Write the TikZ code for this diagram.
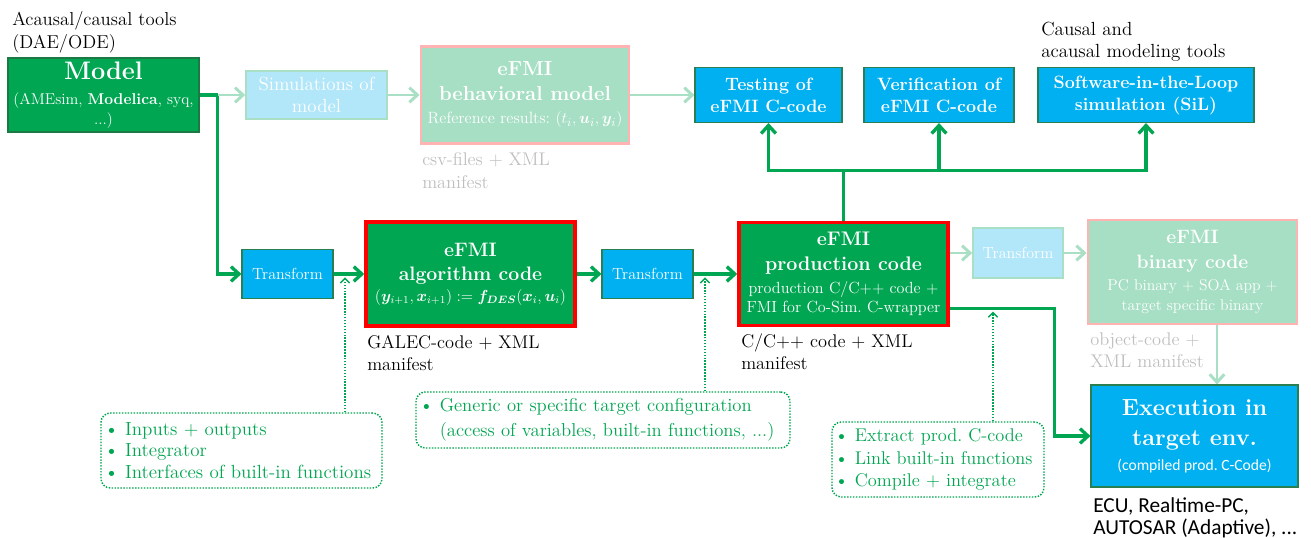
\documentclass[tikz,border=0pt]{standalone}
\usepackage{fontspec}
\usepackage{bm}
\newfontfamily\calibri{Carlito}
\usetikzlibrary{arrows.meta,calc,backgrounds}
\definecolor{dgreen}{HTML}{00A651}
\definecolor{dborder}{HTML}{1B7A43}
\definecolor{cblue}{HTML}{00B0F0}
\definecolor{bborder}{HTML}{2A7F50}
\definecolor{lblue}{HTML}{B2E6F9}
\definecolor{lgline}{HTML}{A9DFC4}
\definecolor{lgfill}{HTML}{A6DFC3}
\definecolor{pinkb}{HTML}{FFB3B3}
\definecolor{lgarrow}{HTML}{A9DFC4}
\definecolor{graytext}{HTML}{BFBFBF}
\definecolor{notegreen}{HTML}{00A651}
\newcommand{\fsz}[2]{\fontsize{#1}{#2}\selectfont}
\frenchspacing
\begin{document}
\frenchspacing
\begin{tikzpicture}[x=0.75pt,y=-0.75pt,
  box/.style={rectangle, inner sep=0pt, align=center, text=white},
  dbox/.style={box, fill=dgreen, draw=dborder, line width=0.8pt},
  rbox/.style={box, fill=dgreen, draw=red, line width=2.6pt},
  bbox/.style={box, fill=cblue, draw=bborder, line width=0.8pt},
  lbbox/.style={box, fill=lblue, draw=lgline, line width=1.2pt},
  lgbox/.style={box, fill=lgfill, draw=pinkb, line width=2.2pt},
  note/.style={rectangle, rounded corners=7pt, draw=dgreen, line width=1.1pt,
    dash pattern=on 1.1pt off 1.1pt, fill=white, text=notegreen, align=left,
    inner xsep=2.5pt, inner ysep=0pt},
  lbl/.style={inner sep=0pt, align=left, anchor=north west},
  darr/.style={draw=dgreen, line width=2.5pt, -{Straight Barb[length=6pt,width=11pt]}},
  dline/.style={draw=dgreen, line width=2.5pt},
  larr/.style={draw=lgarrow, line width=2.2pt, -{Straight Barb[length=6pt,width=11pt]}},
  dotarr/.style={draw=dgreen, line width=1.1pt, dash pattern=on 1.1pt off 1.1pt,
    -{Straight Barb[length=3.5pt,width=7pt]}, shorten >=2.5pt}
]
\begin{scope}[on background layer]
\fill[white] (0,0) rectangle (1311,538);
\end{scope}
\useasboundingbox (0,0) rectangle (1311,538);

% top row
\node[dbox, minimum width=143.25pt, minimum height=55.5pt, font=\fsz{11.75}{15}] (model) at (103.5,95)
  {{\fsz{19}{15}\bfseries Model}\\[3.75pt](AMEsim, \textbf{Modelica}, syq,\\...)};
\node[lbbox, minimum width=105.75pt, minimum height=36pt, font=\fsz{14.25}{16.5}] (sim) at (316.5,95)
  {Simulations of\\model};
\node[lgbox, minimum width=156pt, minimum height=72.75pt, font=\fsz{12.25}{17}] (beh) at (525,95)
  {{\fsz{15.25}{17}\bfseries eFMI}\\[1.75pt]{\fsz{15.25}{17}\bfseries behavioral model}\\[0.25pt]Reference results: $(t_i,\bm{u}_i,\bm{y}_i)$};
\node[bbox, minimum width=110.25pt, minimum height=41.25pt, font=\fsz{13.4}{16.5}\bfseries] (test) at (768.5,95)
  {Testing of\\eFMI C-code};
\node[bbox, minimum width=112.5pt, minimum height=41.25pt, font=\fsz{13.4}{16.5}\bfseries] (verif) at (939,95)
  {Verification of\\eFMI C-code};
\node[bbox, minimum width=162pt, minimum height=41.25pt, font=\fsz{13.4}{16.5}\bfseries] (sil) at (1146,95)
  {Software-in-the-Loop\\simulation (SiL)};

% middle row
\node[bbox, minimum width=68.25pt, minimum height=36.75pt, font=\fsz{12}{12}] (tr1) at (287.5,274) {Transform};
\node[rbox, minimum width=156.75pt, minimum height=78pt, font=\fsz{11.75}{15.75}] (alg) at (470.5,274)
  {{\fsz{14.6}{15.75}\bfseries eFMI}\\[2.25pt]{\fsz{14.6}{15.75}\bfseries algorithm code}\\$(\bm{y}_{i+1},\bm{x}_{i+1}) := \bm{f}_{\bm{DES}}(\bm{x}_i,\bm{u}_i)$};
\node[bbox, minimum width=68.25pt, minimum height=36.75pt, font=\fsz{12}{12}] (tr2) at (647.5,274) {Transform};
\node[rbox, minimum width=156.75pt, minimum height=77.25pt, font=\fsz{12.1}{14.25}] (prod) at (843.5,274)
  {{\fsz{14.75}{14.25}\bfseries eFMI}\\[4.5pt]{\fsz{14.75}{14.25}\bfseries production code}\\[3pt]production C/C++ code +\\FMI for Co-Sim. C-wrapper};
\node[lbbox, minimum width=67.5pt, minimum height=37.5pt, font=\fsz{12}{12}] (tr3) at (1018,253) {Transform};
\node[lgbox, minimum width=156.75pt, minimum height=78pt, font=\fsz{11.75}{15}] (bin) at (1192.5,272)
  {{\fsz{14.5}{15}\bfseries eFMI}\\[3.75pt]{\fsz{14.5}{15}\bfseries binary code}\\[1.5pt]PC binary + SOA app +\\target specific binary};
\node[bbox, minimum width=155.25pt, minimum height=76.5pt, font=\fsz{17.5}{22.5}\bfseries] (exec) at (1194.5,436)
  {Execution in\\target env.\\[-3.75pt]{\calibri\mdseries\fsz{11.7}{12}(compiled prod. C-Code)}};

% notes
\node[note, text width=205.75pt, minimum height=56.25pt, font=\fsz{14.25}{16.25}] (note1) at (241.5,450.5)
  {\textbullet\ Inputs + outputs\\\textbullet\ Integrator\\\textbullet\ Interfaces of built-in functions};
\node[note, text width=275.5pt, minimum height=42pt, font=\fsz{14}{18.75}] (note2) at (603,420)
  {\textbullet\ Generic or specific target configuration\\\phantom{\textbullet\ }(access of variables, built-in functions, ...)};
\node[note, text width=155pt, inner xsep=2pt, minimum height=56.25pt, font=\fsz{13.8}{17}] (note3) at (938,459.5)
  {\textbullet\ Extract prod. C-code\\\textbullet\ Link built-in functions\\\textbullet\ Compile + integrate};

% labels
\node[lbl, font=\fsz{14}{17.25}] (lacausal) at (12,11) {Acausal/causal tools\\(DAE/ODE)};
\node[lbl, font=\fsz{14.25}{16.5}] (lcausal) at (1041,22) {Causal and\\acausal modeling tools};
\node[lbl, font=\fsz{13.75}{17.25}, text=graytext] (lcsv) at (422,152) {csv-files + XML\\manifest};
\node[lbl, font=\fsz{13.75}{16.5}] (lgalec) at (367,335) {GALEC-code + XML\\manifest};
\node[lbl, font=\fsz{13.75}{16.5}] (lcpp) at (741,333) {C/C++ code + XML\\manifest};
\node[lbl, font=\fsz{13.75}{16.5}, text=graytext] (lobj) at (1090,333) {object-code +\\XML manifest};
\node[lbl, font=\calibri\fsz{16}{16.5}] (lecu) at (1093,497) {ECU, Realtime-PC,\\AUTOSAR (Adaptive), ...};

\begin{scope}[on background layer]
\coordinate (split) at ($(model.east)+(18,0)$);
\draw[dline] (model.east) -- (split);
\draw[darr] (split) |- (tr1.west);
\draw[larr] (split) -- (sim.west);
\draw[larr] (sim.east) -- (beh.west);
\draw[larr] (beh.east) -- (test.west);
\draw[darr] (tr1.east) -- (alg.west);
\draw[darr] (alg.east) -- (tr2.west);
\draw[darr] (tr2.east) -- (prod.west);
\coordinate (hub) at ($(prod.north)+(0,-50)$);
\draw[dline] (prod.north) -- (hub);
\draw[darr] (hub) -| (test.south);
\draw[darr] (hub) -| (sil.south);
\draw[darr] (verif.south |- hub) -- (verif.south);
\draw[larr] (prod.east |- tr3.west) -- (tr3.west);
\draw[larr] (tr3.east) -- (tr3.east -| bin.west);
\coordinate (bs) at ($(bin.south)+(24.5,0)$);
\draw[larr] (bs) -- (bs |- exec.north);
\coordinate (pout) at ($(prod.south east)+(0,-19)$);
\draw[darr] (pout) -- ++(105,0) |- (exec.west);
\coordinate (d1) at ($(note1.north)+(103.5,0)$);
\draw[dotarr] (d1) -- (d1 |- tr1.east);
\coordinate (d2) at ($(note2.north)+(102,0)$);
\draw[dotarr] (d2) -- (d2 |- tr2.east);
\coordinate (d3) at ($(note3.north)+(55,0)$);
\draw[dotarr] (d3) -- (d3 |- pout);
\end{scope}
\end{tikzpicture}
\end{document}
